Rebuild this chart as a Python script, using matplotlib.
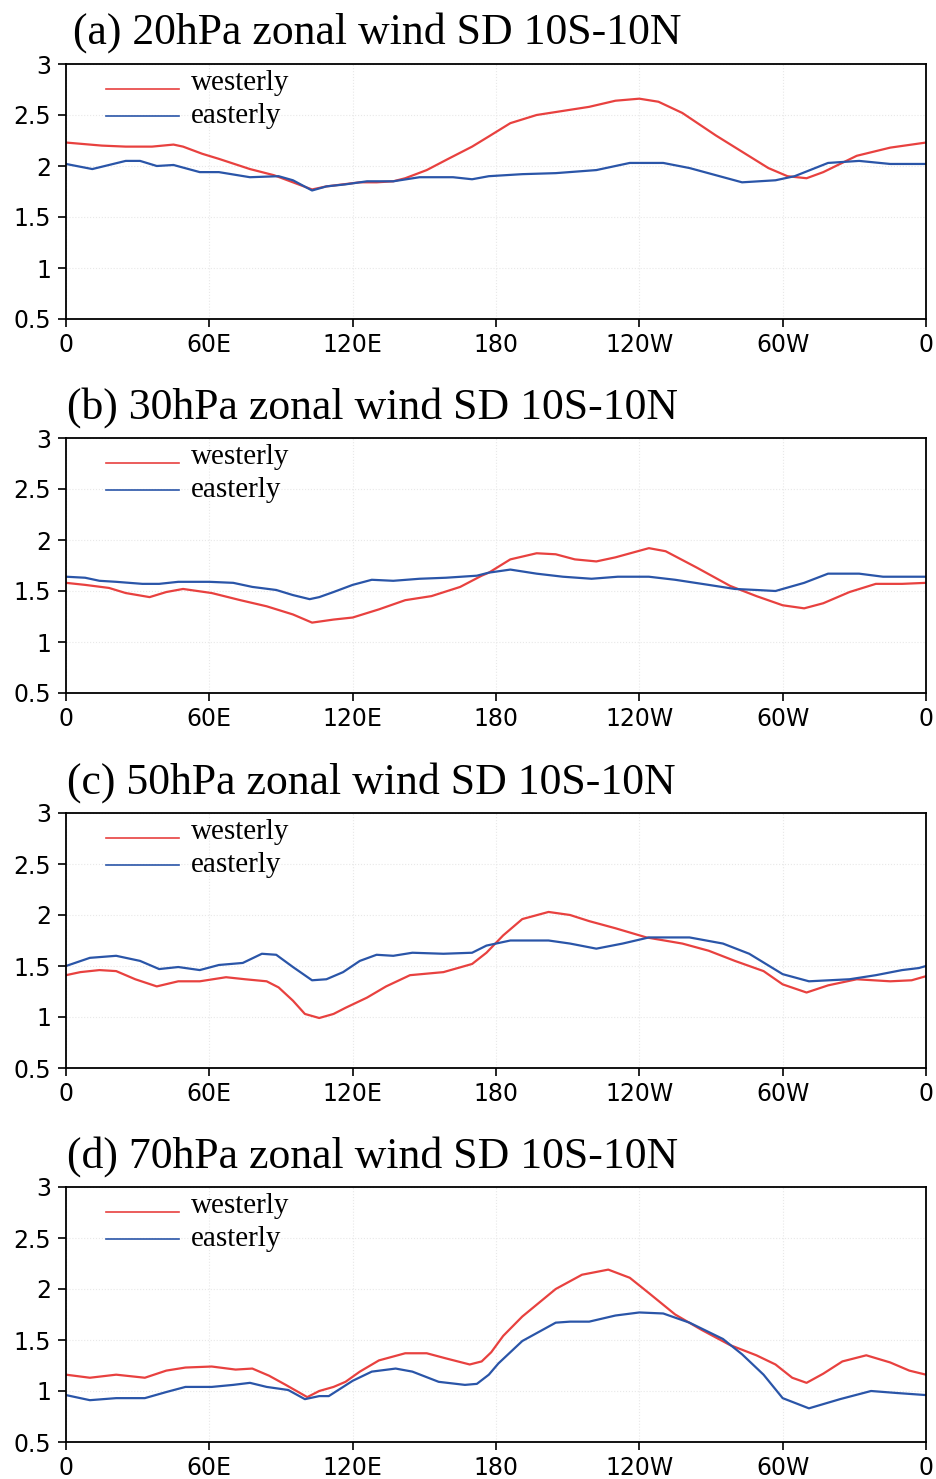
import numpy as np
import matplotlib
matplotlib.use("Agg")
import matplotlib.pyplot as plt

# longitudes go 0..360 (0 -> 180 -> 360 = 0E .. 180 .. 0)
xticks = [0, 60, 120, 180, 240, 300, 360]
xlabels = ['0', '60E', '120E', '180', '120W', '60W', '0']
yticks = [0.5, 1, 1.5, 2, 2.5, 3]
ylabels = ['0.5', '1', '1.5', '2', '2.5', '3']

titles = ['(a) 20hPa zonal wind SD 10S-10N',
          '(b) 30hPa zonal wind SD 10S-10N',
          '(c) 50hPa zonal wind SD 10S-10N',
          '(d) 70hPa zonal wind SD 10S-10N']

# (a) 20hPa
lon_a_w = [0, 15, 25, 36, 45, 49, 57, 64, 77, 87, 95, 103, 109, 116, 123, 130, 137, 142, 151, 160, 170,
           177, 186, 197, 208, 219, 230, 240, 248, 258, 272, 283, 294, 302, 310, 317, 331, 345, 360]
sd_a_w = [2.23, 2.20, 2.19, 2.19, 2.21, 2.19, 2.12, 2.07, 1.97, 1.91, 1.84, 1.77, 1.80, 1.82, 1.84, 1.84,
          1.85, 1.88, 1.96, 2.07, 2.19, 2.29, 2.42, 2.50, 2.54, 2.58, 2.64, 2.66, 2.63, 2.52, 2.30, 2.14,
          1.98, 1.90, 1.88, 1.94, 2.10, 2.18, 2.23]
lon_a_e = [0, 11, 25, 31, 38, 45, 56, 64, 77, 89, 95, 103, 109, 117, 126, 137, 148, 162, 170, 177, 191,
           205, 222, 236, 250, 261, 272, 283, 297, 305, 319, 332, 345, 360]
sd_a_e = [2.02, 1.97, 2.05, 2.05, 2.00, 2.01, 1.94, 1.94, 1.89, 1.90, 1.86, 1.76, 1.80, 1.82, 1.85, 1.85,
          1.89, 1.89, 1.87, 1.90, 1.92, 1.93, 1.96, 2.03, 2.03, 1.98, 1.91, 1.84, 1.86, 1.90, 2.03, 2.05,
          2.02, 2.02]

# (b) 30hPa
lon_b_w = [0, 8, 18, 25, 35, 42, 49, 61, 73, 84, 95, 103, 112, 120, 131, 142, 153, 165, 174, 177, 186,
           197, 205, 213, 222, 230, 244, 251, 264, 278, 289, 300, 309, 317, 328, 339, 350, 360]
sd_b_w = [1.58, 1.56, 1.53, 1.48, 1.44, 1.49, 1.52, 1.48, 1.41, 1.35, 1.27, 1.19, 1.22, 1.24, 1.32, 1.41,
          1.45, 1.54, 1.65, 1.68, 1.81, 1.87, 1.86, 1.81, 1.79, 1.83, 1.92, 1.89, 1.73, 1.55, 1.45, 1.36,
          1.33, 1.38, 1.49, 1.57, 1.57, 1.58]
lon_b_e = [0, 8, 14, 21, 32, 39, 47, 60, 70, 78, 88, 95, 102, 106, 112, 120, 128, 137, 148, 159, 172,
           177, 186, 197, 208, 220, 231, 244, 255, 269, 280, 289, 297, 309, 319, 332, 342, 360]
sd_b_e = [1.64, 1.63, 1.60, 1.59, 1.57, 1.57, 1.59, 1.59, 1.58, 1.54, 1.51, 1.46, 1.42, 1.44, 1.49, 1.56,
          1.61, 1.60, 1.62, 1.63, 1.65, 1.68, 1.71, 1.67, 1.64, 1.62, 1.64, 1.64, 1.61, 1.56, 1.52, 1.51,
          1.50, 1.58, 1.67, 1.67, 1.64, 1.64]

# (c) 50hPa
lon_c_w = [0, 6, 14, 21, 29, 38, 47, 56, 67, 75, 84, 89, 95, 100, 106, 112, 117, 126, 134, 144, 158, 170,
           176, 183, 191, 202, 211, 219, 230, 243, 258, 269, 280, 292, 300, 310, 319, 331, 345, 354, 360]
sd_c_w = [1.41, 1.44, 1.46, 1.45, 1.37, 1.30, 1.35, 1.35, 1.39, 1.37, 1.35, 1.29, 1.16, 1.03, 0.99, 1.03,
          1.09, 1.19, 1.30, 1.41, 1.44, 1.52, 1.63, 1.80, 1.96, 2.03, 2.00, 1.94, 1.87, 1.78, 1.72, 1.65,
          1.55, 1.45, 1.32, 1.24, 1.31, 1.37, 1.35, 1.36, 1.40]
lon_c_e = [0, 10, 21, 31, 39, 47, 56, 64, 74, 82, 88, 95, 103, 109, 116, 123, 130, 137, 145, 158, 170,
           176, 186, 202, 211, 222, 233, 244, 261, 275, 286, 300, 311, 328, 339, 350, 357, 360]
sd_c_e = [1.50, 1.58, 1.60, 1.55, 1.47, 1.49, 1.46, 1.51, 1.53, 1.62, 1.61, 1.49, 1.36, 1.37, 1.44, 1.55,
          1.61, 1.60, 1.63, 1.62, 1.63, 1.70, 1.75, 1.75, 1.72, 1.67, 1.72, 1.78, 1.78, 1.72, 1.62, 1.42,
          1.35, 1.37, 1.41, 1.46, 1.48, 1.50]

# (d) 70hPa
lon_d_w = [0, 10, 21, 33, 42, 50, 61, 71, 78, 85, 92, 98, 101, 106, 112, 117, 123, 131, 142, 151, 159,
           169, 174, 178, 183, 191, 205, 216, 227, 236, 244, 255, 266, 278, 289, 297, 304, 310, 317, 325,
           335, 345, 353, 360]
sd_d_w = [1.16, 1.13, 1.16, 1.13, 1.20, 1.23, 1.24, 1.21, 1.22, 1.15, 1.06, 0.98, 0.94, 1.00, 1.04, 1.09,
          1.19, 1.30, 1.37, 1.37, 1.32, 1.26, 1.29, 1.38, 1.54, 1.73, 2.00, 2.14, 2.19, 2.11, 1.96, 1.75,
          1.60, 1.45, 1.35, 1.26, 1.13, 1.08, 1.17, 1.29, 1.35, 1.28, 1.20, 1.16]
lon_d_e = [0, 10, 21, 33, 42, 50, 61, 70, 77, 84, 93, 100, 106, 110, 120, 128, 138, 145, 156, 167, 172,
           177, 181, 191, 205, 211, 219, 230, 240, 250, 261, 275, 283, 292, 300, 311, 324, 337, 348, 360]
sd_d_e = [0.96, 0.91, 0.93, 0.93, 0.99, 1.04, 1.04, 1.06, 1.08, 1.04, 1.01, 0.92, 0.95, 0.95, 1.10, 1.19,
          1.22, 1.19, 1.09, 1.06, 1.07, 1.16, 1.27, 1.49, 1.67, 1.68, 1.68, 1.74, 1.77, 1.76, 1.67, 1.51,
          1.36, 1.16, 0.93, 0.83, 0.92, 1.00, 0.98, 0.96]

panels = [(lon_a_w, sd_a_w, lon_a_e, sd_a_e),
          (lon_b_w, sd_b_w, lon_b_e, sd_b_e),
          (lon_c_w, sd_c_w, lon_c_e, sd_c_e),
          (lon_d_w, sd_d_w, lon_d_e, sd_d_e)]

red = '#e8413f'
blue = '#2a55a8'
serif = ['Liberation Serif', 'DejaVu Serif']

fig = plt.figure(figsize=(9.36, 14.79), dpi=100)
W, H = 936.0, 1479.0
tops = [64, 438, 813, 1187]  # pixel tops of the panels
title_x = [0.008, 0.001, 0.001, 0.001]
title_y = [1.082, 1.075, 1.075, 1.075]

for i, (lw_, sw_, le_, se_) in enumerate(panels):
    top = tops[i]
    ax = fig.add_axes([66 / W, 1 - (top + 255) / H, 860 / W, 255 / H])
    ax.plot(lw_, sw_, color=red, lw=1.6, solid_joinstyle='round')
    ax.plot(le_, se_, color=blue, lw=1.6, solid_joinstyle='round')
    ax.set_xlim(0, 360)
    ax.set_ylim(0.5, 3)
    ax.set_xticks(xticks)
    ax.set_xticklabels(xlabels)
    ax.set_yticks(yticks)
    ax.set_yticklabels(ylabels)
    ax.tick_params(direction='out', length=5.8, width=1.2, labelsize=17, pad=4)
    ax.tick_params(axis='y', pad=5)
    for s in ax.spines.values():
        s.set_linewidth(1.3)
    ax.grid(True, linestyle=':', color='#e8e8e8', lw=0.8)

    # legend drawn by hand (NCL style)
    ax.plot([0.047, 0.131], [0.902, 0.902], color=red, lw=1.2, transform=ax.transAxes)
    ax.plot([0.047, 0.131], [0.796, 0.796], color=blue, lw=1.2, transform=ax.transAxes)
    ax.text(0.145, 0.925, 'westerly', transform=ax.transAxes, family=serif,
            fontsize=21, va='center', ha='left')
    ax.text(0.145, 0.795, 'easterly', transform=ax.transAxes, family=serif,
            fontsize=21, va='center', ha='left')

    ax.text(title_x[i], title_y[i], titles[i], transform=ax.transAxes, family=serif,
            fontsize=31.5, va='baseline', ha='left')

fig.savefig('out.png', dpi=100)
